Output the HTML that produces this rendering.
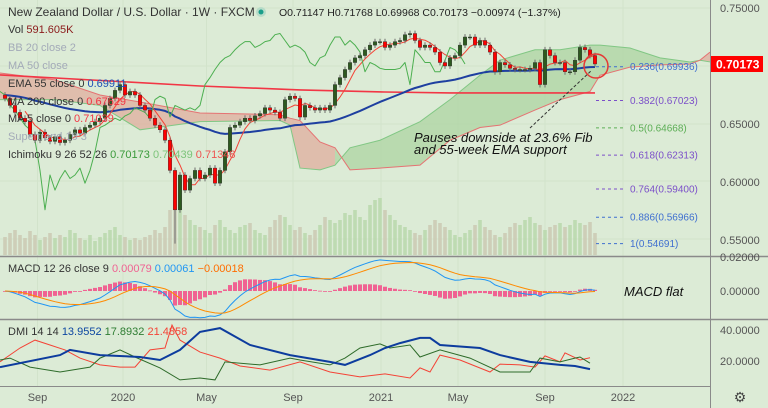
<!DOCTYPE html>
<html><head><meta charset="utf-8">
<style>
html,body{margin:0;padding:0;background:#dcebd6;}
svg{display:block;font-family:"Liberation Sans",sans-serif;}
</style></head>
<body>
<svg id="chart" width="768" height="408" viewBox="0 0 768 408" xmlns="http://www.w3.org/2000/svg">
<rect x="0" y="0" width="768" height="408" fill="#dcebd6"/>
<g id="grid"></g>
<g id="volume"></g>
<g id="cloud"></g>
<g id="lines"></g>
<g id="candles"></g>
<g id="fib"></g>
<g id="macd"></g>
<g id="dmi"></g>
<g id="axes"></g>
<g id="legend"></g>
</svg>
<script>
const closes=[0.672,0.666,0.660,0.655,0.652,0.641,0.636,0.643,0.638,0.635,0.639,0.634,0.636,0.641,0.645,0.642,0.647,0.649,0.652,0.655,0.666,0.672,0.679,0.684,0.675,0.678,0.675,
0.666,0.662,0.655,0.649,0.645,0.636,0.610,0.576,0.606,0.593,0.603,0.610,0.603,0.606,0.612,0.599,0.610,0.626,0.647,0.649,0.652,0.655,0.653,0.657,0.659,0.664,0.662,0.660,0.655,0.671,0.674,0.672,0.656,0.666,0.664,0.662,0.664,0.662,0.666,0.684,0.690,
0.697,0.703,0.707,0.709,0.714,0.718,0.721,0.721,0.716,0.718,0.721,0.722,0.727,0.728,0.722,0.716,0.718,0.716,0.712,0.703,0.700,0.707,0.709,0.718,0.725,0.725,0.718,0.722,0.718,0.712,0.695,0.703,0.701,0.698,0.697,0.697,0.697,0.698,0.703,0.684,0.714,0.709,0.703,0.703,0.695,0.695,0.705,0.716,0.714,0.709,0.70173];
const firstOpen=0.675;
const lowMarch2020=0.5469;
const volumes=[18,22,25,20,17,24,20,15,18,22,17,20,18,25,22,17,15,20,14,18,22,25,28,20,18,15,17,
15,18,20,25,22,28,45,60,50,40,35,30,28,25,22,30,35,28,25,22,28,30,32,25,22,20,28,35,40,38,30,25,28,22,20,25,30,38,35,32,35,
42,40,45,38,35,50,55,57,45,40,35,30,28,25,22,20,25,30,35,32,28,25,20,18,22,25,30,35,28,25,20,18,22,28,32,30,35,38,32,30,25,28,30,32,28,30,35,32,30,33,22];
const ma200Weeks=[-1,39,59,76,89,99,118];
const ma200Vals=[0.6923,0.6828,0.6794,0.6776,0.6768,0.6768,0.6768];
const cloudWeeks=[-1,10,19,27,39,55,57,59,63,66,69,75,83,89,95,99,106,111,117,119,125,131,137,139,141];
const spanA=[0.671,0.671,0.666,0.645,0.652,0.653,0.649,0.612,0.6105,0.6145,0.6295,0.636,0.652,0.671,0.692,0.705,0.714,0.714,0.718,0.718,0.7155,0.707,0.7035,0.705,0.7035];
const spanB=[0.694,0.688,0.675,0.669,0.6595,0.658,0.655,0.653,0.6345,0.6295,0.6105,0.612,0.6145,0.636,0.647,0.649,0.662,0.671,0.678,0.692,0.699,0.701,0.7017,0.705,0.712];
const adxW=[-1,11,13,19,27,31,35,39,43,49,57,65,68,73,76,79,83,85,87,95,99,105,111,114,117];
const adxV=[15.3,23.3,26.7,23.3,22,20,26.7,38.7,41.3,30,23.3,18.7,16.7,23.3,28,31.3,34.7,34.7,30,28,23.3,18.7,16.7,16,13.96];
const pdiW=[-1,1,5,11,17,19,23,26,31,35,39,42,44,51,57,59,65,68,71,75,77,81,83,87,93,99,105,107,111,114,115,117];
const pdiV=[20,21.3,15.3,12,15.3,21.3,26.7,22,14.7,6.7,8,6.7,18.7,16.7,21.3,20,16.7,21.3,28,30.7,28,30,22,26.7,21.3,12,12,21.3,18.7,21.3,22,17.89];
const mdiW=[-1,3,6,9,12,15,19,23,26,29,32,33.4,35,39,43,47,53,59,65,71,76,81,83,85,87,91,97,99,103,106,108,111,112,115,117];
const mdiV=[18.7,28,33.3,30,26.7,21.3,16.7,15.3,15.3,26.7,28,43.3,33.3,25.3,21.3,16,13.3,18.7,12,8.7,10.7,8,14.7,12,23.3,20,12,17.3,16.7,15.3,22.7,18.7,24.7,20,21.49];
const fibRatios=["0.236","0.382","0.5","0.618","0.764","0.886","1"];
const fibPrices=[0.69936,0.67023,0.64668,0.62313,0.59400,0.56966,0.54691];
const priceTicks=[0.75,0.65,0.60,0.55];
const timeLabels=["Sep","2020","May","Sep","2021","May","Sep","2022"];
const timeWeeks=[6.5,23.6,40.3,57.6,75.2,90.6,108,123.6];

const NS="http://www.w3.org/2000/svg";
function X(i){return 5+5*i;}
function Y(p){return 8+(0.75-p)*1160;}
function MY(v){return 291-v*1700;}
function DY(v){return 330+(40-v)*1.5;}
function el(tag,attrs,parent,text){const e=document.createElementNS(NS,tag);for(const k in attrs)e.setAttribute(k,attrs[k]);if(text!==undefined)e.textContent=text;parent.appendChild(e);return e;}
const g=id=>document.getElementById(id);

const grid=g('grid');
[8,66,124,181,239].forEach(y=>el('line',{x1:0,x2:711,y1:y,y2:y,stroke:'#d2e3cb','stroke-width':1},grid));
timeWeeks.forEach(w=>el('line',{x1:X(w),x2:X(w),y1:0,y2:386,stroke:'#d2e3cb','stroke-width':1},grid));

const vg=g('volume');
volumes.forEach((v,i)=>{const o=i?closes[i-1]:firstOpen;const up=closes[i]>=o;
 const r=el('rect',{x:X(i)-1.8,y:255-v,width:3.6,height:v,fill:up?'#b9d8ab':'#cbc9b3','fill-opacity':0.85},vg);
 
 });

const cg=g('cloud');
for(let k=0;k<cloudWeeks.length-1;k++){
 const x1=X(cloudWeeks[k]),x2=X(cloudWeeks[k+1]);
 const a1=Y(spanA[k]),a2=Y(spanA[k+1]),b1=Y(spanB[k]),b2=Y(spanB[k+1]);
 const green=(spanA[k]+spanA[k+1])>=(spanB[k]+spanB[k+1]);
 const p=el('polygon',{points:`${x1},${a1} ${x2},${a2} ${x2},${b2} ${x1},${b1}`,fill:green?'#a9d39e':'#e0aa9a','fill-opacity':0.7},cg);
 
 
}
el('polyline',{points:cloudWeeks.map((w,k)=>X(w)+','+Y(spanA[k])).join(' '),fill:'none',stroke:'#81c784','stroke-width':1},cg);
el('polyline',{points:cloudWeeks.map((w,k)=>X(w)+','+Y(spanB[k])).join(' '),fill:'none',stroke:'#e57373','stroke-width':1},cg);

const lg=g('lines');
function poly(pts,color,w,name){const p=el('polyline',{points:pts.map(q=>q[0].toFixed(1)+','+q[1].toFixed(1)).join(' '),fill:'none',stroke:color,'stroke-width':w,'stroke-linejoin':'round'},lg);return p;}
poly(ma200Weeks.map((w,k)=>[X(w),Y(ma200Vals[k])]),'#f23645',1.6,'ma200-line');
let e=0.675,emaPts=[];const ka=2/56;
closes.forEach((c,i)=>{e=c*ka+e*(1-ka);emaPts.push([X(i),Y(e)]);});
poly(emaPts,'#1e3fa0',2,'ema55-line');
const ma5=[];closes.forEach((c,i)=>{if(i>=4){let s=0;for(let j=i-4;j<=i;j++)s+=closes[j];ma5.push([X(i),Y(s/5)]);}});
poly(ma5,'#f44336',1,'ma5-line');
poly(closes.map((c,i)=>[X(i-26),Y(c)]),'#4caf50',1,'ichimoku-lagging-span');

const kg=g('candles');
closes.forEach((c,i)=>{const o=i?closes[i-1]:firstOpen;const up=c>=o;
 const hi=Math.max(o,c)+0.0025,lo=(i===34?lowMarch2020:Math.min(o,c)-0.0025);
 const w=el('line',{x1:X(i),x2:X(i),y1:Y(hi),y2:Y(lo),stroke:'#6b6b6b','stroke-width':1},kg);
 
 
 const top=Y(Math.max(o,c)),h=Math.max(1,Math.abs(Y(o)-Y(c)));
 const b=el('rect',{x:X(i)-1.8,y:top,width:3.6,height:h,fill:up?'#2d5a1f':'#ff0000',stroke:'#333','stroke-width':0.4},kg);
 
 
});

const fg=g('fib');
const fibColors=['#3f6fd0','#7b4fc9','#5cae55','#7b4fc9','#7b4fc9','#3f6fd0','#3f6fd0'];
fibPrices.forEach((p,k)=>{const y=Y(p);
 el('line',{x1:596,x2:624,y1:y,y2:y,stroke:fibColors[k],'stroke-width':1,'stroke-dasharray':'3,3'},fg);
 const t=el('text',{x:630,y:y+3.5,'font-size':10,fill:fibColors[k]},fg,fibRatios[k]+'('+p.toFixed(5)+')');
 
 });
el('line',{x1:530,x2:592,y1:128,y2:70,stroke:'#333','stroke-width':1,'stroke-dasharray':'3,2'},fg);
el('circle',{cx:596,cy:66,r:12,fill:'none',stroke:'#e53935','stroke-width':1.5},fg);
const a1=el('text',{x:414,y:142,'font-size':13,'font-style':'italic',fill:'#111'},fg,'Pauses downside at 23.6% Fib');

const a2=el('text',{x:414,y:154,'font-size':13,'font-style':'italic',fill:'#111'},fg,'and 55-week EMA support');


const mg=g('macd');
let e12=closes[0],e26=closes[0],sig=0;const macdV=[],sigV=[];
closes.forEach(c=>{e12=c*2/13+e12*11/13;e26=c*2/27+e26*25/27;const m=e12-e26;sig=m*0.2+sig*0.8;macdV.push(m);sigV.push(sig);});
macdV.forEach((m,i)=>{const h=m-sigV[i];const y1=MY(0),y2=MY(h);
 const r=el('rect',{x:X(i)-2,y:Math.min(y1,y2),width:4,height:Math.max(0.8,Math.abs(y2-y1)),fill:'#f06292'},mg);
 
 });
el('polyline',{points:macdV.map((m,i)=>X(i)+','+MY(m).toFixed(1)).join(' '),fill:'none',stroke:'#2196f3','stroke-width':1},mg);
el('polyline',{points:sigV.map((m,i)=>X(i)+','+MY(m).toFixed(1)).join(' '),fill:'none',stroke:'#ff8a00','stroke-width':1},mg);
el('text',{x:624,y:296,'font-size':13,'font-style':'italic',fill:'#111'},mg,'MACD flat');

const dg=g('dmi');
el('polyline',{points:mdiW.map((w,k)=>X(w)+','+DY(mdiV[k]).toFixed(1)).join(' '),fill:'none',stroke:'#f44336','stroke-width':1},dg);
el('polyline',{points:pdiW.map((w,k)=>X(w)+','+DY(pdiV[k]).toFixed(1)).join(' '),fill:'none',stroke:'#2e6b2a','stroke-width':1},dg);
el('polyline',{points:adxW.map((w,k)=>X(w)+','+DY(adxV[k]).toFixed(1)).join(' '),fill:'none',stroke:'#0d3c9e','stroke-width':2},dg);

const ax=g('axes');
el('line',{x1:0,x2:768,y1:256.5,y2:256.5,stroke:'#8a8a8a','stroke-width':1.5},ax);
el('line',{x1:0,x2:768,y1:319.5,y2:319.5,stroke:'#8a8a8a','stroke-width':1.5},ax);
el('line',{x1:0,x2:711,y1:386.5,y2:386.5,stroke:'#8a8a8a','stroke-width':1},ax);
el('rect',{x:711,y:0,width:57,height:408,fill:'#dcebd6'},ax);
el('line',{x1:710.5,x2:710.5,y1:0,y2:408,stroke:'#8a8a8a','stroke-width':1},ax);
el('line',{x1:711,x2:768,y1:256.5,y2:256.5,stroke:'#8a8a8a','stroke-width':1.5},ax);
el('line',{x1:711,x2:768,y1:319.5,y2:319.5,stroke:'#8a8a8a','stroke-width':1.5},ax);
priceTicks.forEach(p=>{const t=el('text',{x:720,y:Y(p)+4,'font-size':11,fill:'#555'},ax,p.toFixed(5));});
el('text',{x:720,y:261,'font-size':11,fill:'#555'},ax,'0.02000');
el('text',{x:720,y:295,'font-size':11,fill:'#555'},ax,'0.00000');
el('text',{x:720,y:334,'font-size':11,fill:'#555'},ax,'40.0000');
el('text',{x:720,y:365,'font-size':11,fill:'#555'},ax,'20.0000');
el('rect',{x:711,y:Y(closes[closes.length-1])-8,width:52,height:16,fill:'#ff0000'},ax);
el('text',{x:716,y:Y(closes[closes.length-1])+4.5,'font-size':12,'font-weight':'bold',fill:'#fff'},ax,closes[closes.length-1].toFixed(5));
timeLabels.forEach((s,k)=>{const t=el('text',{x:X(timeWeeks[k]),y:401,'font-size':11,fill:'#555','text-anchor':'middle'},ax,s);});
const gear=el('text',{x:740,y:402,'font-size':14,fill:'#444','text-anchor':'middle'},ax,'⚙');



const L=g('legend');
function row(y,parts,name){const t=el('text',{x:8,y:y,'font-size':11},L);parts.forEach(p=>{el('tspan',{fill:p[1]},t,p[0]);});return t;}
row(16,[['New Zealand Dollar / U.S. Dollar · 1W · FXCM','#333']],'symbol-title').setAttribute('font-size','12');
el('circle',{cx:261,cy:12,r:5,fill:'#b7dcc8'},L);el('circle',{cx:261,cy:12,r:2.5,fill:'#1a9e8a'},L);
const o=el('text',{x:279,y:16,'font-size':10.5,fill:'#222'},L,'O0.71147 H0.71768 L0.69968 C0.70173 −0.00974 (−1.37%)');

row(33,[['Vol  ','#333'],['591.605K','#8b1a1a']],'volume-legend');
row(51,[['BB 20 close 2','#a3aab8']],'bb-legend');
row(69,[['MA 50 close','#a3aab8']],'ma50-legend');
row(87,[['EMA 55 close 0  ','#333'],['0.69911','#1e4fb5']],'ema55-legend');
row(105,[['MA 200 close 0  ','#333'],['0.67629','#f23645']],'ma200-legend');
row(122,[['MA 5 close 0  ','#333'],['0.71039','#f23645']],'ma5-legend');
row(140,[['Supertrend 10 3','#a3aab8']],'supertrend-legend');
row(158,[['Ichimoku 9 26 52 26  ','#333'],['0.70173  ','#3a9a3a'],['0.70439  ','#7cc47a'],['0.71348','#ef5350']],'ichimoku-legend');
row(272,[['MACD 12 26 close 9  ','#333'],['0.00079  ','#f06292'],['0.00061  ','#2196f3'],['−0.00018','#ff6d00']],'macd-legend');
row(335,[['DMI 14 14  ','#333'],['13.9552  ','#0d47a1'],['17.8932  ','#2e7d32'],['21.4858','#f44336']],'dmi-legend');
</script>
</body></html>
